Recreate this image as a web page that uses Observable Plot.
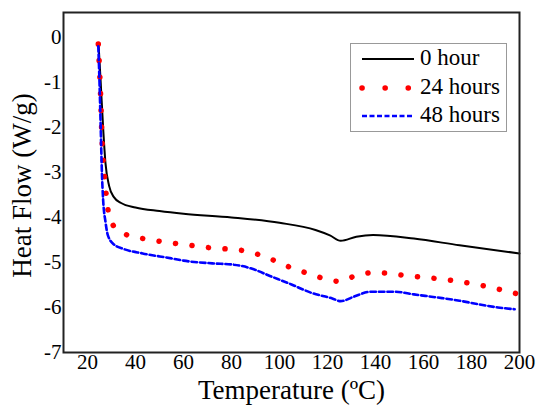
<!DOCTYPE html>
<html>
<head>
<meta charset="utf-8">
<script src="https://cdn.jsdelivr.net/npm/d3@7"></script>
<script src="https://cdn.jsdelivr.net/npm/@observablehq/plot@0.6"></script>
<style>
  html, body { margin: 0; padding: 0; background: #fff; }
  #wrap { position: relative; width: 540px; height: 405px; overflow: hidden; }
  #legend { position: absolute; left: 350px; top: 43px; width: 157px; height: 89px;
    border: 1px solid #999; background: #fff; box-sizing: border-box; font-size: 23px; color: #000; }
  .row { position: absolute; left: 8px; height: 26px; display: flex; align-items: center; white-space: nowrap; }
  .row svg { margin-right: 5px; }
</style>
</head>
<body>
<div id="wrap"></div>
<script>
const seriesNames = ["0 hour", "24 hours", "48 hours"];
const seriesColors = ["#000000", "#ff0000", "#0000ff"];

const temp0 = [24.6, 25.5, 26.5, 27.5, 29, 31, 34, 40, 50, 60, 80, 100, 115, 121, 125.5, 132, 139, 156, 175, 200];
const heat0 = [-0.15, -1.0, -2.0, -2.8, -3.3, -3.55, -3.68, -3.78, -3.86, -3.92, -4.0, -4.12, -4.28, -4.4, -4.52, -4.43, -4.39, -4.47, -4.62, -4.8];

const temp24 = [24.5, 25, 25.4, 25.7, 26, 26.5, 27.3, 28.2, 30, 33, 36, 43, 50, 60, 72, 84, 91, 98, 104, 111, 118, 125, 131, 140, 147, 158, 172, 186, 200];
const heat24 = [-0.15, -0.7, -1.2, -1.7, -2.2, -2.7, -3.2, -3.7, -4.1, -4.3, -4.38, -4.47, -4.53, -4.6, -4.68, -4.73, -4.82, -4.96, -5.1, -5.23, -5.35, -5.42, -5.31, -5.22, -5.26, -5.32, -5.4, -5.53, -5.71];

const temp48 = [24.5, 25, 25.5, 26, 26.5, 27.5, 28.5, 31, 35, 43, 55, 60, 72, 81, 88, 96, 105, 113, 122, 125.5, 131, 138, 148, 156, 166, 175, 183, 191, 198];
const heat48 = [-0.2, -1.0, -2.0, -3.0, -3.6, -4.1, -4.4, -4.6, -4.7, -4.8, -4.91, -4.96, -5.02, -5.05, -5.13, -5.3, -5.49, -5.67, -5.8, -5.86, -5.76, -5.65, -5.65, -5.71, -5.78, -5.85, -5.93, -6.0, -6.04];

const xTicks = [20, 40, 60, 80, 100, 120, 140, 160, 180, 200];
const yTicks = [0, -1, -2, -3, -4, -5, -6, -7];
const xLabel = "Temperature (ºC)";
const yLabel = "Heat Flow (W/g)";

const d0 = temp0.map((t, i) => ({t, h: heat0[i]}));
const d24 = temp24.map((t, i) => ({t, h: heat24[i]}));
const d48 = temp48.map((t, i) => ({t, h: heat48[i]}));

const font = "'Liberation Serif', 'Times New Roman', 'DejaVu Serif', serif";

const chart = Plot.plot({
  width: 540,
  height: 405,
  marginLeft: 63,
  marginRight: 21,
  marginTop: 12,
  marginBottom: 53,
  style: {fontFamily: font, background: "#fff", color: "#000"},
  x: {domain: [10, 200]},
  y: {domain: [-7, 0.55]},
  marks: [
    Plot.axisX({ticks: xTicks, tickSize: 0, tickPadding: 2, fontSize: 21, fill: "#000", label: null, tickFormat: d => String(d)}),
    Plot.axisY({ticks: yTicks, tickSize: 0, tickPadding: 2, fontSize: 21, fill: "#000", label: null, tickFormat: d => String(d)}),
    Plot.line(d0, {x: "t", y: "h", stroke: seriesColors[0], strokeWidth: 2, curve: "monotone-x"}),
    Plot.line(d24, {x: "t", y: "h", stroke: seriesColors[1], strokeWidth: 5.5, strokeLinecap: "round", strokeDasharray: "0.1 16.5", curve: "monotone-x"}),
    Plot.line(d48, {x: "t", y: "h", stroke: seriesColors[2], strokeWidth: 2.6, strokeDasharray: "5.5 3", curve: "monotone-x"}),
    Plot.frame({stroke: "#222", strokeWidth: 2}),
    Plot.text([xLabel], {text: d => d, frameAnchor: "bottom", dy: 46, fontSize: 27, fill: "#000", textAnchor: "middle"}),
    Plot.text([yLabel], {text: d => d, frameAnchor: "left", dx: -41, dy: 3, rotate: -90, fontSize: 27, fill: "#000", textAnchor: "middle"})
  ]
});
chart.querySelectorAll("text, g").forEach(el => {
  el.style.fontFamily = font;
  el.style.fontVariant = "normal";
});
document.getElementById("wrap").appendChild(chart);

const legend = document.createElement("div");
legend.id = "legend";
legend.style.fontFamily = font;
const dashes = [null, "0.1 23", "5 2.5"];
const widths = [1.8, 5.5, 2.4];
seriesNames.forEach((name, i) => {
  const row = document.createElement("div");
  row.className = "row";
  row.style.top = (1 + i * 28.5) + "px";
  const ns = "http://www.w3.org/2000/svg";
  const s = document.createElementNS(ns, "svg");
  s.setAttribute("width", 56); s.setAttribute("height", 20);
  const l = document.createElementNS(ns, "line");
  l.setAttribute("x1", 3); l.setAttribute("x2", 55); l.setAttribute("y1", 11); l.setAttribute("y2", 11);
  l.setAttribute("stroke", seriesColors[i]); l.setAttribute("stroke-width", widths[i]);
  if (dashes[i]) l.setAttribute("stroke-dasharray", dashes[i]);
  if (i === 1) l.setAttribute("stroke-linecap", "round");
  s.appendChild(l);
  row.appendChild(s);
  const span = document.createElement("span");
  span.textContent = name;
  span.style.fontFamily = font;
  row.appendChild(span);
  legend.appendChild(row);
});
document.getElementById("wrap").appendChild(legend);
</script>
</body>
</html>
